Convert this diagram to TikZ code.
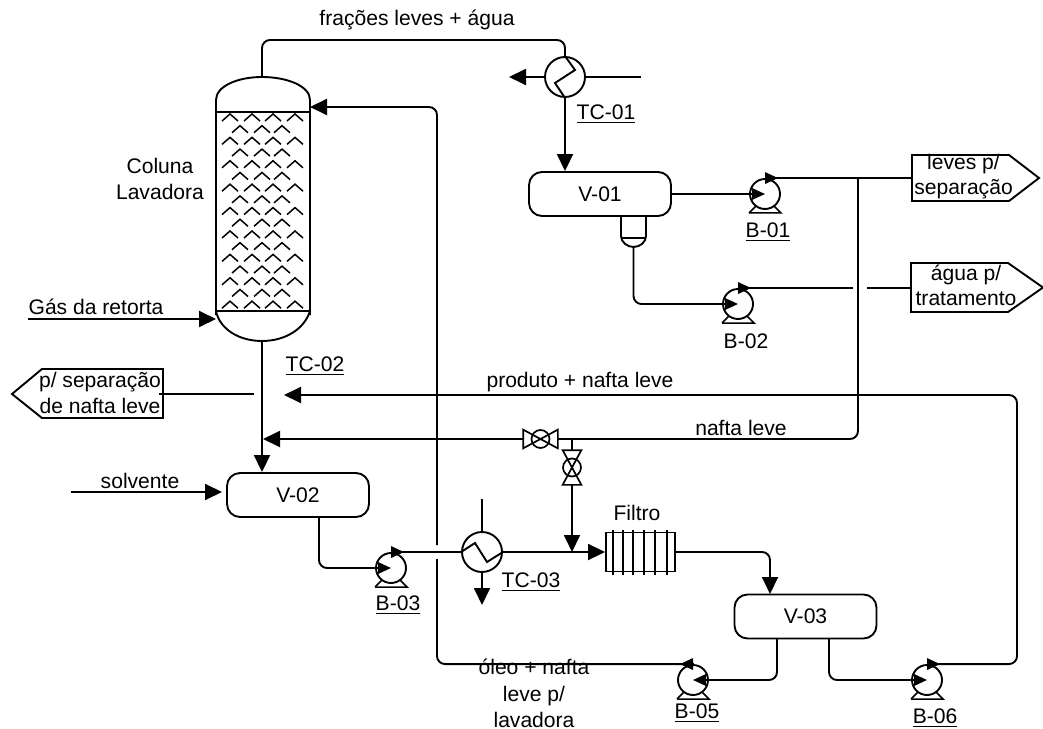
\documentclass[tikz,border=0pt]{standalone}
\usepackage{fontspec}
\setmainfont{Liberation Sans}
\usetikzlibrary{arrows.meta,positioning,calc}
\newcommand{\lblfont}{\fontsize{12}{14.4}\selectfont}

\begin{document}
\begin{tikzpicture}[x=0.02cm, y=-0.02cm,
    every node/.style={font=\lblfont, inner sep=0pt},
    pipe/.style={line width=0.38mm, rounded corners=1.6mm},
    flow/.style={pipe, -{Triangle[length=3.4mm, width=3.2mm]}},
    smallflow/.style={pipe, -{Triangle[length=2.6mm, width=2.3mm]}},
    vessel/.style={draw, line width=0.38mm, rounded corners=2.6mm, minimum width=2.84cm, minimum height=0.88cm},
    pumpbody/.style={draw, circle, fill=white, line width=0.38mm, minimum size=0.6cm},
    exchanger/.style={draw, circle, line width=0.38mm, minimum size=0.8cm},
    chevron/.style={line width=0.3mm},
    thinline/.style={line width=0.3mm},
    offpage/.style={draw, line width=0.38mm, line join=miter},
    valvesym/.style={line width=0.34mm}]
\useasboundingbox (0,0) rectangle (1043,729);

% ==== Coluna lavadora ====
\coordinate (coltop) at (262,77);
\coordinate (colbot) at (262,341);
\coordinate (gasin) at (216,319);
\coordinate (refluxin) at (310,107);
\draw[line width=0.38mm] (216,315) -- (216,100)
    .. controls (216,86) and (238,77) .. (coltop)
    .. controls (287,77) and (310,86) .. (310,100) -- (310,315);
\draw[line width=0.38mm] (216,311) .. controls (220,330) and (240,341) .. (colbot)
    .. controls (284,341) and (304,330) .. (310,311);
\draw[thinline] (216,112) -- (310,112);
\draw[thinline] (216,311) -- (310,311);
% recheio em chevrons, 17 fileiras alternadas
\foreach \row in {0,...,16} {
    \pgfmathsetmacro{\ypos}{114+\row*11.7}
    \pgfmathtruncatemacro{\oddrow}{mod(\row,2)}
    \ifnum\oddrow=0
        \foreach \xpos in {230,252,273,295}
            \draw[chevron] (\xpos-8,\ypos+7) -- (\xpos,\ypos) -- (\xpos+8,\ypos+7);
    \else
        \foreach \xpos in {240,262,282}
            \draw[chevron] (\xpos-8,\ypos+7) -- (\xpos,\ypos) -- (\xpos+8,\ypos+7);
    \fi
}
\node[align=center] (lblcol) at (160,179) {Coluna\\[0.5pt]Lavadora};

% ==== Vasos ====
\node[vessel] (v01) at (600,194) {V-01};
\node[vessel] (v02) at (298,495) {V-02};
\node[vessel] (v03) at (805.5,616.5) {V-03};
\coordinate (bootl) at (621,216);
\coordinate (bootr) at (646,216);
\coordinate (bootout) at (633.5,247);
\draw[line width=0.38mm] (bootl) -- (621,236) .. controls (621,242) and (627,247) .. (bootout)
    .. controls (640,247) and (646,242) .. (646,236) -- (bootr);
\draw[thinline] (621,238) -- (646,238);
\coordinate (v02out) at (319,517);
\coordinate (v03in) at (770,594);
\coordinate (v03l) at (777,639);
\coordinate (v03r) at (829,639);

% ==== Bombas ====
\foreach \pname/\px/\py in {b01/765/194, b02/738/304, b03/391/568, b05/693/680, b06/927/680} {
    \draw[thinline] (\px-16,\py+19) -- (\px+16,\py+19) -- (\px+8,\py+11);
    \draw[thinline] (\px-16,\py+19) -- (\px-8,\py+11);
    \node[pumpbody] (\pname) at (\px,\py) {};
}
\node (lblb01) at (768,232) {\underline{B-01}};
\node (lblb02) at (746,341) {B-02};
\node (lblb03) at (398,605) {\underline{B-03}};
\node (lblb05) at (697,713) {\underline{B-05}};
\node (lblb06) at (935,718) {\underline{B-06}};

% ==== Trocadores ====
\node[exchanger] (tc01) at (565,77) {};
\draw[pipe, rounded corners=0pt] (tc01.north) -- (575,70) -- (555,83) -- (tc01.south);
\node[exchanger] (tc03) at (482,552) {};
\draw[pipe, rounded corners=0pt] (tc03.west) -- (475,543) -- (487,562) -- (tc03.east);
\node (lbltc01) at (606,114) {\underline{TC-01}};
\node (lbltc02) at (315,366) {\underline{TC-02}};
\node (lbltc03) at (531,582) {\underline{TC-03}};
\coordinate (tc01cold) at (641,77);
\coordinate (tc01ret) at (509,77);
\coordinate (tc03cold) at (482,499);
\coordinate (tc03ret) at (482,605);

% ==== Filtro ====
\node[draw, line width=0.38mm, minimum width=1.38cm, minimum height=0.78cm] (filtro) at (640.5,552) {};
\foreach \xpos in {613,623,633,644,655,667}
    \draw[thinline] (\xpos,530) -- (\xpos,575);
\node (lblfiltro) at (637,513) {Filtro};

% ==== Valvulas ====
\node[minimum width=0.68cm, minimum height=0.36cm] (vh) at (540.5,439) {};
\draw[valvesym] (vh.north west) -- (vh.south east) -- (vh.north east) -- (vh.south west) -- cycle;
\draw[valvesym] (vh.center) circle (0.18cm);
\node[minimum width=0.36cm, minimum height=0.68cm] (vv) at (572,467.5) {};
\draw[valvesym] (vv.north west) -- (vv.south east) -- (vv.south west) -- (vv.north east) -- cycle;
\draw[valvesym] (vv.center) circle (0.18cm);

% ==== Caixas de saida ====
\draw[offpage] (912,155) coordinate (boxa) -- (1009,155) -- (1039,178) -- (1009,201) -- (912,201) -- cycle;
\node[align=center] (lblboxa) at (963.5,176.5) {leves p/\\separação};
\draw[offpage] (911,263) coordinate (boxb) -- (1008,263) -- (1043,287.5) -- (1008,312) -- (911,312) -- cycle;
\node[align=center] (lblboxb) at (966,285.5) {água p/\\tratamento};
\draw[offpage] (163,369) coordinate (boxc) -- (42,369) -- (12,394) -- (42,418) -- (163,418) -- cycle;
\node[align=center] (lblboxc) at (100,393) {p/ separação\\de nafta leve};
\coordinate (boxain) at (912,179);
\coordinate (boxbin) at (911,288);
\coordinate (boxcin) at (159,394);

% ==== Linhas ====
% topo da coluna ate o TC-01 e V-01
\draw[pipe] (coltop) |- (430,40) -| (tc01.north);
\draw[flow] (tc01.south) -- (tc01.south |- v01.north);
\draw[pipe] (tc01cold) -- (tc01.east);
\draw[flow] (tc01.west) -- (tc01ret);
% V-01 para as bombas
\draw[smallflow] (v01.east) -- (b01.center);
\draw[smallflow] (bootout) |- (b02.center);
\draw[smallflow] (b01.north) -- ++(13,0);
\draw[smallflow] (b02.north) -- ++(13,0);
\coordinate (jctleves) at (858,178.5);
\coordinate (jctnafta) at (572,439);
\coordinate (gapa) at (853,288);
\coordinate (gapb) at (867,288);
\draw[pipe] (b01.north) -- (boxain |- b01.north);
\draw[pipe] (b02.north) -- (gapa |- b02.north);
\draw[pipe] (gapb) -- (boxbin);
\draw[pipe] (jctleves) |- (jctnafta) -- (vh.east);
\coordinate (colline) at (263,439);
\draw[flow] (vh.west) -- (colline);
\draw[pipe] (jctnafta) -- (vv.north);
\draw[flow] (vv.south) -- (vv.south |- tc03.east);
% coluna para V-02
\draw[flow] (colbot) -- (colbot |- v02.north);
\coordinate (gasstart) at (28,319);
\draw[flow] (gasstart) -- (gasin);
\coordinate (solvstart) at (71,492);
\coordinate (solvin) at (222,492);
\draw[flow] (solvstart) -- (solvin);
\coordinate (sepstart) at (254,394);
\draw[pipe] (sepstart) -- (boxcin);
% V-02, B-03, TC-03, filtro
\draw[smallflow] (v02out) |- (b03.center);
\draw[smallflow] (b03.north) -- ++(13,0);
\draw[pipe] (b03.north) -- (b03.north -| tc03.west);
\draw[flow] (tc03.east) -- (filtro.west);
\draw[pipe] (tc03cold) -- (tc03.north);
\draw[flow] (tc03.south) -- (tc03ret);
\draw[flow] (filtro.east) -| (v03in);
% V-03 para as bombas e retornos
\draw[smallflow] (v03l) |- (b05.center);
\draw[smallflow] (v03r) |- (b06.center);
\draw[smallflow] (b05.north) -- ++(-13,0);
\draw[smallflow] (b06.north) -- ++(13,0);
\coordinate (gapc) at (437,559);
\coordinate (gapd) at (437,545);
\draw[pipe] (b05.north) -| (gapc);
\draw[flow] (gapd) |- (refluxin);
\coordinate (prodtip) at (284,395);
\draw[flow] (b06.north) -| (1017,395) -- (prodtip);

% ==== Textos ====
\node (lbltop) at (417,20) {frações leves + água};
\node (lblgas) at (96,307) {Gás da retorta};
\node (lblsolv) at (140,481) {solvente};
\node (lblprod) at (580,382) {produto + nafta leve};
\node (lblnafta) at (741,428) {nafta leve};
\node[align=center] (lbloleo) at (534,693.5) {óleo + nafta\\[0.5pt]leve p/\\[0.5pt]lavadora};
\end{tikzpicture}
\end{document}
